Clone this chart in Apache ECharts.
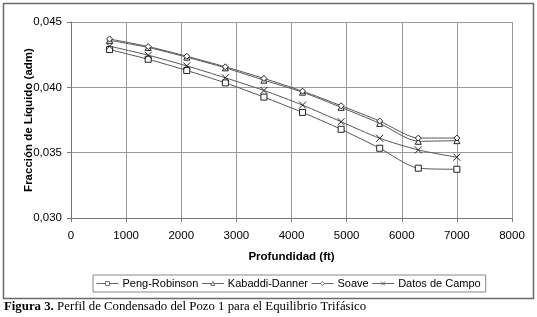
<!DOCTYPE html>
<html><head><meta charset="utf-8">
<script src="https://cdn.jsdelivr.net/npm/echarts@6/dist/echarts.min.js"></script>
<style>html,body{margin:0;padding:0;background:#fff}#c{width:537px;height:317px}</style>
</head><body><div id="c"></div>
<script>
const depth = [700, 1400, 2100, 2800, 3500, 4200, 4900, 5600, 6300, 7000];
const pengRobinson = [0.04289, 0.04215, 0.04129, 0.04034, 0.03925, 0.03808, 0.03679, 0.03534, 0.03381, 0.03373];
const kabaddiDanner = [0.04360, 0.04305, 0.04231, 0.04149, 0.04055, 0.03963, 0.03847, 0.03724, 0.03587, 0.03592];
const soave = [0.04370, 0.04312, 0.04238, 0.04157, 0.04068, 0.03971, 0.03859, 0.03742, 0.03612, 0.03612];
const datosCampo = [0.04315, 0.04246, 0.04164, 0.04073, 0.03976, 0.03864, 0.03737, 0.03610, 0.03521, 0.03465];
const seriesNames = ['Peng-Robinson', 'Kabaddi-Danner', 'Soave', 'Datos de Campo'];
const xTicks = [0, 8000, 1000];
const yTicks = [0.030, 0.045, 0.005];

const symbols = ['rect', 'triangle', 'diamond', 'path://M0,0L10,10M10,0L0,10'];
const sizes = [6, 6, 6, 7];
const dataSets = [pengRobinson, kabaddiDanner, soave, datosCampo];

const chart = echarts.init(document.getElementById('c'));
const fmt = v => v.toFixed(3).replace('.', ',');
chart.setOption({
  animation: false,
  textStyle: { fontFamily: 'Liberation Sans, Arial, sans-serif' },
  grid: { left: 71, right: 25, top: 22, bottom: 99, containLabel: false },
  graphic: [
    { type: 'rect', shape: { x: 3.5, y: 3.5, width: 530, height: 295 }, style: { fill: 'none', stroke: '#6a6a6a', lineWidth: 1.5 }, silent: true },
    { type: 'text', left: 4, top: 300, style: { rich: {
        b: { fontFamily: 'Liberation Serif, serif', fontSize: 12.8, fontWeight: 'bold', fill: '#000' },
        n: { fontFamily: 'Liberation Serif, serif', fontSize: 12.8, fill: '#000' } },
        text: '{b|Figura 3.} {n|Perfil de Condensado del Pozo 1 para el Equilibrio Trifásico}' } }
  ],
  legend: {
    left: 93, top: 275,
    padding: [3, 5, 3, 3],
    itemGap: 3,
    itemWidth: 22, itemHeight: 5,
    borderColor: '#888', borderWidth: 1,
    textStyle: { fontSize: 11, color: '#000', padding: [0, 0, 0, -1] },
    data: seriesNames.map((n, i) => ({
      name: n,
      itemStyle: { color: '#fff', borderColor: '#555', borderWidth: 0.8 },
      lineStyle: { color: '#666', width: 1 }
    }))
  },
  xAxis: {
    type: 'value', min: xTicks[0], max: xTicks[1], interval: xTicks[2],
    name: 'Profundidad (ft)', nameLocation: 'middle', nameGap: 33, nameMoveOverlap: false,
    nameTextStyle: { fontSize: 11.5, fontWeight: 'bold', color: '#000' },
    axisLine: { lineStyle: { color: '#777' } },
    axisTick: { show: true, length: 4, lineStyle: { color: '#777' } },
    axisLabel: { fontSize: 11.5, color: '#000', margin: 12, formatter: v => String(v) },
    splitLine: { lineStyle: { color: '#9a9a9a', width: 1 } }
  },
  yAxis: {
    type: 'value', min: yTicks[0], max: yTicks[1], interval: yTicks[2],
    name: 'Fracción de Líquido (adm)', nameLocation: 'middle', nameGap: 36, nameMoveOverlap: false,
    nameTextStyle: { fontSize: 11.5, fontWeight: 'bold', color: '#000' },
    axisLine: { show: true, lineStyle: { color: '#777' } },
    axisTick: { show: true, length: 4, lineStyle: { color: '#777' } },
    axisLabel: { fontSize: 11.5, color: '#000', margin: 9, formatter: fmt },
    splitLine: { lineStyle: { color: '#9a9a9a', width: 1 } }
  },
  series: seriesNames.map((n, i) => ({
    name: n, type: 'line', smooth: 0.25,
    data: depth.map((d, j) => [d, dataSets[i][j]]),
    symbol: symbols[i], symbolSize: sizes[i], showAllSymbol: true,
    lineStyle: { color: '#555', width: 1 },
    itemStyle: { color: '#fff', borderColor: '#222', borderWidth: 1 },
    z: 2 + i
  }))
});
</script></body></html>
